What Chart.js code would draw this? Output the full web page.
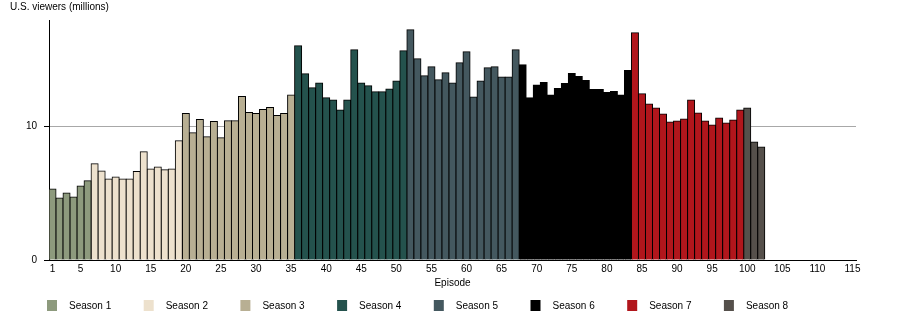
<!DOCTYPE html>
<html>
<head>
<meta charset="utf-8">
<script src="https://cdn.jsdelivr.net/npm/chart.js@4.4.1/dist/chart.umd.min.js"></script>
<style>
  html, body { margin: 0; padding: 0; background: #fff; }
</style>
</head>
<body>
<canvas id="myChart" width="904" height="330"></canvas>
<script>
var seasonNames = ["Season 1", "Season 2", "Season 3", "Season 4", "Season 5", "Season 6", "Season 7", "Season 8"];
var seasonColors = ["#8d9a7d", "#ede1cd", "#b8af93", "#24524d", "#44585f", "#000000", "#b1161c", "#55504b"];
var seasonLengths = [6, 13, 16, 16, 16, 16, 16, 3];

// U.S. viewers (millions) per episode, episodes 1..102
var viewers = [
  5.33, 4.65, 5.03, 4.72, 5.55, 5.95,
  7.21, 6.68, 6.08, 6.23, 6.08, 6.08, 6.63, 8.12, 6.83, 6.98, 6.76, 6.83, 8.94,
  10.98, 9.55, 10.53, 9.25, 10.38, 9.17, 10.45, 10.45, 12.26, 11.06, 10.98, 11.28, 11.43, 10.83, 10.98, 12.38,
  16.07, 13.96, 12.91, 13.28, 12.16, 12.0, 11.25, 12.0, 15.76, 13.28, 13.06, 12.61, 12.61, 12.83, 13.43, 15.69,
  17.27, 15.09, 13.81, 14.49, 13.51, 14.04, 13.28, 14.79, 15.61, 12.23, 13.43, 14.41, 14.49, 13.73, 13.73, 15.76,
  14.64, 12.16, 13.13, 13.31, 12.38, 12.86, 13.23, 13.98, 13.76, 13.46, 12.78, 12.78, 12.56, 12.63, 12.38, 14.21,
  17.04, 12.46, 11.70, 11.40, 10.95, 10.35, 10.43, 10.58, 12.0, 11.03, 10.43, 10.13, 10.65, 10.28, 10.50, 11.25,
  11.40, 8.85, 8.47
];
var maxEpisode = 115;
var yTicks = [0, 10];

var episodeLabels = [];
for (var i = 1; i <= maxEpisode; i++) episodeLabels.push(String(i));

// one dataset per season, nulls outside the season
var datasets = [];
var start = 0;
seasonLengths.forEach(function(len, s) {
  var d = [];
  for (var e = 0; e < maxEpisode; e++) {
    d.push(e >= start && e < start + len ? viewers[e] : null);
  }
  datasets.push({
    label: seasonNames[s],
    data: d,
    backgroundColor: seasonColors[s],
    borderColor: "#000",
    borderWidth: 1,
    inflateAmount: 0.5,
    barPercentage: 1,
    categoryPercentage: 1,
    grouped: false
  });
  start += len;
});

var seasonLegend = {
  id: "seasonLegend",
  afterDraw: function(chart) {
    var ctx = chart.ctx;
    var left = chart.chartArea.left - 2;
    ctx.save();
    ctx.font = "10px 'Liberation Sans', Arial, sans-serif";
    ctx.textBaseline = "middle";
    ctx.textAlign = "left";
    chart.data.datasets.forEach(function(ds, i) {
      var x = left + i * 96.7;
      ctx.fillStyle = ds.backgroundColor;
      ctx.fillRect(x, 300, 10, 11);
      ctx.fillStyle = "#000";
      ctx.fillText(ds.label, x + 22, 306);
    });
    ctx.restore();
  }
};

Chart.defaults.font.family = "'Liberation Sans', Arial, sans-serif";
Chart.defaults.font.size = 10;
Chart.defaults.color = "#000";

var chart = new Chart(document.getElementById("myChart").getContext("2d"), {
  type: "bar",
  data: { labels: episodeLabels, datasets: datasets },
  plugins: [seasonLegend],
  options: {
    responsive: false,
    animation: false,
    layout: { padding: { left: 10, right: 48, top: 0, bottom: 39 } },
    plugins: {
      legend: { display: false },
      tooltip: { enabled: false },
      title: {
        display: true,
        text: "U.S. viewers (millions)",
        align: "start",
        color: "#000",
        font: { size: 10, weight: "normal" },
        padding: { top: 1, bottom: 7 }
      }
    },
    scales: {
      x: {
        grid: { display: false, drawTicks: false },
        border: { display: true, color: "#000", width: 1 },
        ticks: {
          autoSkip: false,
          maxRotation: 0,
          padding: 3,
          callback: function(v, i) {
            var n = i + 1;
            return (n === 1 || n % 5 === 0) ? String(n) : "";
          }
        },
        title: { display: true, text: "Episode", padding: { top: 0, bottom: 2 } },
        afterFit: function(s) { s.height = 31; }
      },
      y: {
        min: 0,
        max: 18,
        afterBuildTicks: function(s) {
          s.ticks = yTicks.map(function(v) { return { value: v }; });
        },
        grid: {
          color: function(c) { return c.tick && c.tick.value === 10 ? "#a8a8a8" : "rgba(0,0,0,0)"; },
          tickColor: "#000",
          tickLength: 5
        },
        border: { display: true, color: "#000", width: 1 },
        ticks: { padding: 7 },
        afterFit: function(s) { s.width = 39; }
      }
    }
  }
});
</script>
</body>
</html>
